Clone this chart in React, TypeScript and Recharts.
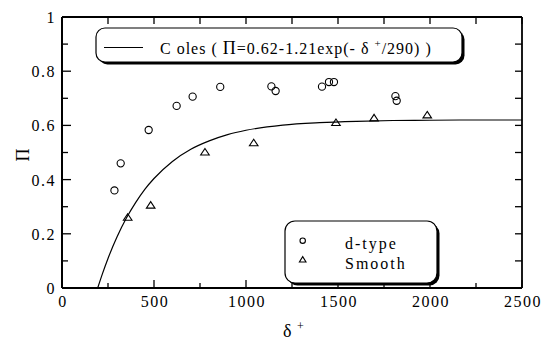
import { ComposedChart, XAxis, YAxis, Line, Scatter } from 'recharts';

const W = 542;
const H = 340;
const FONT = '"Liberation Serif", "Times New Roman", serif';

// axis ticks
const xTicks = [0, 250, 500, 750, 1000, 1250, 1500, 1750, 2000, 2250, 2500];
const yTicks = [0, 0.1, 0.2, 0.3, 0.4, 0.5, 0.6, 0.7, 0.8, 0.9, 1];

// d-type roughness
const dtypeX = [285, 319, 471, 623, 710, 860, 1138, 1161, 1413, 1451, 1478, 1812, 1819];
const dtypeY = [0.36, 0.46, 0.583, 0.672, 0.706, 0.742, 0.744, 0.727, 0.743, 0.76, 0.76, 0.708, 0.691];

// smooth wall
const smoothX = [357, 482, 777, 1042, 1489, 1696, 1985];
const smoothY = [0.259, 0.304, 0.5, 0.534, 0.609, 0.626, 0.637];

// Coles fit, Π = 0.62 - 1.21 exp(-δ+/290)
const colesX = [194, 220, 250, 300, 350, 400, 450, 500, 600, 700, 800, 900, 1000, 1200, 1400, 1600, 1800, 2000, 2200, 2500];
const colesY = [0, 0.053, 0.109, 0.19, 0.258, 0.315, 0.364, 0.404, 0.467, 0.512, 0.543, 0.566, 0.582, 0.601, 0.61, 0.615, 0.618, 0.619, 0.62, 0.62];

const dtype = dtypeX.map((x, i) => ({ x, y: dtypeY[i] }));
const smooth = smoothX.map((x, i) => ({ x, y: smoothY[i] }));
const coles = colesX.map((x, i) => ({ x, y: colesY[i] }));

const isMajorX = (v: number) => v % 500 === 0;
const isMajorY = (v: number) => Math.round(v * 10) % 2 === 0;
const yLabel = (v: number) => (v === 0 ? '0' : v === 1 ? '1' : v.toFixed(1));

const labelStyle = { fontFamily: FONT, fontSize: 16, letterSpacing: 1.5, fill: '#000' };

const BottomTick = ({ x, y, payload }: any) => {
  const v = payload.value;
  const major = isMajorX(v);
  return (
    <g>
      <line x1={x} x2={x} y1={y} y2={y - (major ? 8 : 5)} stroke="#000" strokeWidth={1.3} />
      {major && (
        <text x={x + 1} y={y + 19} textAnchor="middle" style={labelStyle}>
          {v}
        </text>
      )}
    </g>
  );
};

const TopTick = ({ x, y }: any) => (
  <line x1={x} x2={x} y1={y} y2={y + 7} stroke="#000" strokeWidth={1.3} />
);

const LeftTick = ({ x, y, payload }: any) => {
  const v = payload.value;
  const major = isMajorY(v);
  return (
    <g>
      <line x1={x} x2={x + (major ? 9 : 6)} y1={y} y2={y} stroke="#000" strokeWidth={1.3} />
      {major && (
        <text x={x - 6} y={y + 6} textAnchor="end" style={labelStyle}>
          {yLabel(v)}
        </text>
      )}
    </g>
  );
};

const RightTick = ({ x, y }: any) => (
  <line x1={x} x2={x - 7} y1={y} y2={y} stroke="#000" strokeWidth={1.3} />
);

const CircleMark = ({ cx, cy }: any) => (
  <circle cx={cx} cy={cy} r={3.6} fill="none" stroke="#000" strokeWidth={1.1} />
);

const TriangleMark = ({ cx, cy }: any) => (
  <path
    d={`M${cx},${cy - 4} L${cx + 4.3},${cy + 2.5} L${cx - 4.3},${cy + 2.5} Z`}
    fill="none"
    stroke="#000"
    strokeWidth={1.1}
  />
);

const Legends = () => (
  <svg width={W} height={H} style={{ position: 'absolute', left: 0, top: 0, pointerEvents: 'none' }}>
    {/* fit legend */}
    <rect x={98.5} y={30.5} width={366} height={34} rx={9} fill="#000" />
    <rect x={96} y={28} width={366} height={34} rx={9} fill="#fff" stroke="#000" strokeWidth={1.2} />
    <line x1={104} x2={143} y1={47.5} y2={47.5} stroke="#000" strokeWidth={1.2} />
    <text x={160} y={54} style={{ fontFamily: FONT, fontSize: 16, letterSpacing: 1, fill: '#000' }}>
      <tspan>C oles ( </tspan>
      <tspan fontSize={18}>Π</tspan>
      <tspan>=0.62-1.21exp(- δ </tspan>
      <tspan fontSize={11} dy={-7}>+</tspan>
      <tspan dy={7}>/290)  )</tspan>
    </text>

    {/* symbol legend */}
    <rect x={287.5} y={223.5} width={152} height={62} rx={10} fill="#000" />
    <rect x={285} y={221} width={152} height={62} rx={10} fill="#fff" stroke="#000" strokeWidth={1.2} />
    <circle cx={302.7} cy={240.7} r={2.7} fill="none" stroke="#000" strokeWidth={1.1} />
    <path d="M302.7,256.6 L306,262 L299.4,262 Z" fill="none" stroke="#000" strokeWidth={1.1} />
    <text x={345} y={249} style={{ fontFamily: FONT, fontSize: 16, letterSpacing: 2, fill: '#000' }}>
      d-type
    </text>
    <text x={345} y={269} style={{ fontFamily: FONT, fontSize: 16, letterSpacing: 2, fill: '#000' }}>
      Smooth
    </text>

    {/* axis titles */}
    <text
      x={29}
      y={155}
      transform="rotate(-90 29 155)"
      textAnchor="middle"
      style={{ fontFamily: FONT, fontSize: 18, fill: '#000' }}
    >
      Π
    </text>
    <text x={283} y={337} style={{ fontFamily: FONT, fontSize: 18, fill: '#000' }}>
      δ
    </text>
    <text x={297} y={330} style={{ fontFamily: FONT, fontSize: 12, fill: '#000' }}>
      +
    </text>
  </svg>
);

export default function App() {
  return (
    <div style={{ position: 'absolute', left: 0, top: 0, width: W, height: H, background: '#fff' }}>
      <ComposedChart width={W} height={H} margin={{ top: 16, right: 19, bottom: 51, left: 61 }}>
        <XAxis
          dataKey="x"
          type="number"
          domain={[0, 2500]}
          ticks={xTicks}
          interval={0}
          height={1}
          tickSize={0}
          tickMargin={0}
          tickLine={false}
          tick={<BottomTick />}
          axisLine={{ stroke: '#000', strokeWidth: 2 }}
          allowDataOverflow
        />
        <XAxis
          xAxisId="top"
          orientation="top"
          dataKey="x"
          type="number"
          domain={[0, 2500]}
          ticks={xTicks}
          interval={0}
          height={1}
          tickSize={0}
          tickMargin={0}
          tickLine={false}
          tick={<TopTick />}
          axisLine={{ stroke: '#000', strokeWidth: 1.8 }}
          allowDataOverflow
        />
        <YAxis
          dataKey="y"
          type="number"
          domain={[0, 1]}
          ticks={yTicks}
          interval={0}
          width={1}
          tickSize={0}
          tickMargin={0}
          tickLine={false}
          tick={<LeftTick />}
          axisLine={{ stroke: '#000', strokeWidth: 2 }}
          allowDataOverflow
        />
        <YAxis
          yAxisId="right"
          orientation="right"
          dataKey="y"
          type="number"
          domain={[0, 1]}
          ticks={yTicks}
          interval={0}
          width={1}
          tickSize={0}
          tickMargin={0}
          tickLine={false}
          tick={<RightTick />}
          axisLine={{ stroke: '#000', strokeWidth: 1.8 }}
          allowDataOverflow
        />
        <Line
          data={coles}
          dataKey="y"
          type="monotone"
          dot={false}
          stroke="#000"
          strokeWidth={1.2}
          isAnimationActive={false}
        />
        <Scatter data={dtype} dataKey="y" shape={<CircleMark />} isAnimationActive={false} />
        <Scatter data={smooth} dataKey="y" shape={<TriangleMark />} isAnimationActive={false} />
      </ComposedChart>
      <Legends />
    </div>
  );
}
